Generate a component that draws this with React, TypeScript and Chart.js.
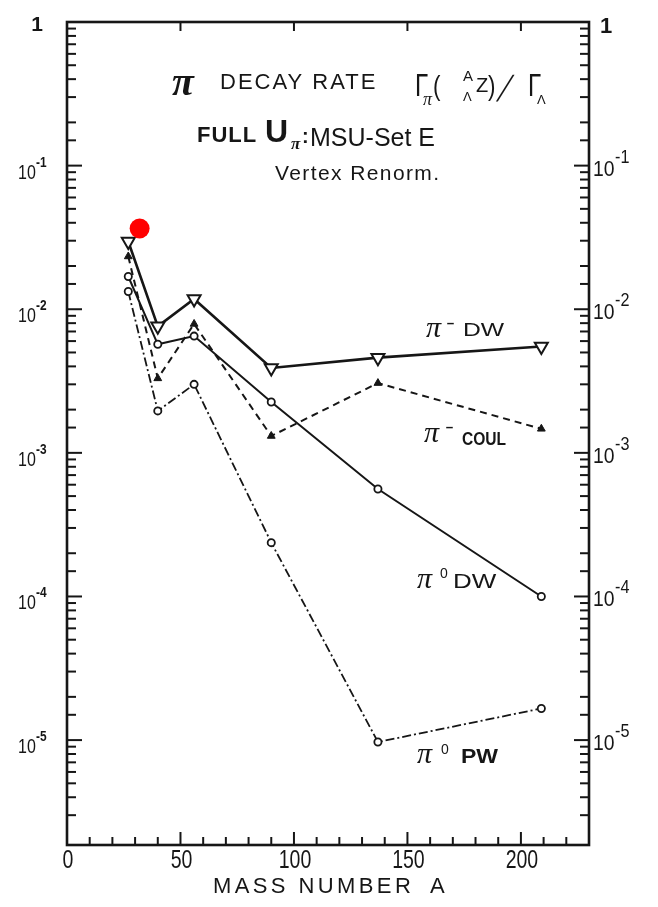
import { useEffect, useRef } from 'react';
import { Chart, registerables } from 'chart.js';

Chart.register(...registerables);

// Mass numbers of the hypernuclei shown on the horizontal axis
const massNumbers = [27, 40, 56, 90, 137, 209];

// Decay-rate ratios Γπ / ΓΛ for each model
const piMinusDW = [0.0296, 0.0076, 0.0118, 0.0039, 0.0046, 0.0055];
const piMinusCoul = [0.0233, 0.0033, 0.0079, 0.00131, 0.00306, 0.00147];
const piZeroDW = [0.0169, 0.0057, 0.0065, 0.00226, 0.00056, 0.0001];
const piZeroPW = [0.0133, 0.00196, 0.003, 0.000237, 0.0000097, 0.0000166];

// Highlighted point
const markedA = [32];
const markedRate = [0.0365];

// Axis ranges and labelled ticks
const xRange = [0, 230];
const yRange = [1.86e-6, 1];
const xTickLabels = [0, 50, 100, 150, 200];
const yDecades = [1, 1e-1, 1e-2, 1e-3, 1e-4, 1e-5];

const INK = '#161616';

const toPoints = (ys: number[], xs: number[] = massNumbers) =>
  xs.map((x, i) => ({ x, y: ys[i] }));

type PutOpts = { ls?: number; sx?: number; skew?: number; align?: CanvasTextAlign };

function put(
  ctx: CanvasRenderingContext2D,
  s: string,
  x: number,
  y: number,
  font: string,
  opts: PutOpts = {}
) {
  ctx.save();
  ctx.font = font;
  (ctx as any).letterSpacing = `${opts.ls ?? 0}px`;
  ctx.textAlign = opts.align ?? 'left';
  ctx.textBaseline = 'alphabetic';
  ctx.translate(x, y);
  if (opts.skew) ctx.transform(1, 0, opts.skew, 1, 0, 0);
  ctx.scale(opts.sx ?? 1, 1);
  ctx.fillText(s, 0, 0);
  ctx.restore();
}

const isDecade = (v: number) => {
  const e = Math.log10(v);
  return Math.abs(e - Math.round(e)) < 1e-6;
};

const SANS = '"Liberation Sans", Arial, sans-serif';
const SERIF = '"Liberation Serif", "Times New Roman", serif';
const pi = (size: number, bold = false) => `${bold ? 'bold ' : ''}italic ${size}px ${SERIF}`;

const framePlugin = {
  id: 'frameAndText',
  beforeDatasetsDraw(chart: any) {
    const { ctx, chartArea: a, scales } = chart;
    const xs = scales.x;
    const ys = scales.y;
    ctx.save();
    ctx.strokeStyle = INK;
    ctx.lineCap = 'butt';

    const seg = (x1: number, y1: number, x2: number, y2: number) => {
      ctx.beginPath();
      ctx.moveTo(x1, y1);
      ctx.lineTo(x2, y2);
      ctx.stroke();
    };

    // inward tick marks on both vertical axes
    ctx.lineWidth = 2;
    for (const t of ys.ticks) {
      const py = ys.getPixelForValue(t.value);
      if (py < a.top + 1 || py > a.bottom - 1) continue;
      const major = isDecade(t.value);
      const len = major ? 15 : 9;
      seg(a.left, py, a.left + len, py);
      seg(a.right, py, a.right - len, py);
    }

    // inward tick marks on the horizontal axes
    for (const t of xs.ticks) {
      const px = xs.getPixelForValue(t.value);
      if (px < a.left + 1 || px > a.right - 1) continue;
      const major = t.value % 50 === 0;
      seg(px, a.bottom, px, a.bottom - (major ? 13 : 8));
      if (major) seg(px, a.top, px, a.top + 9);
    }

    // plot frame
    ctx.lineWidth = 2.6;
    ctx.strokeRect(a.left, a.top, a.right - a.left, a.bottom - a.top);
    ctx.restore();
  },
  afterDatasetsDraw(chart: any) {
    const { ctx, chartArea: a, scales } = chart;
    const xs = scales.x;
    const ys = scales.y;
    ctx.save();
    ctx.fillStyle = INK;

    // horizontal tick labels
    for (const v of xTickLabels) {
      const px = xs.getPixelForValue(v);
      put(ctx, String(v), px + 1, a.bottom + 23, `25px ${SANS}`, { sx: 0.78, align: 'center' });
    }

    // decade labels on both sides
    for (const v of yDecades) {
      const py = ys.getPixelForValue(v);
      const e = Math.round(Math.log10(v));
      if (e === 0) {
        put(ctx, '1', 43, py + 9, `bold 21px ${SANS}`, { align: 'right' });
        put(ctx, '1', a.right + 11, py + 11, `bold 22px ${SANS}`);
        continue;
      }
      put(ctx, '10', 18, py + 13, `20px ${SANS}`, { sx: 0.8 });
      put(ctx, `-${-e}`, 36, py + 1, `bold 14px ${SANS}`, { sx: 0.85 });
      put(ctx, '10', a.right + 4, py + 10, `22px ${SANS}`, { sx: 0.88 });
      put(ctx, `-${-e}`, a.right + 26, py - 3, `18px ${SANS}`, { sx: 0.9 });
    }

    // title block
    put(ctx, 'π', 172, 95, pi(40, true));
    put(ctx, 'DECAY RATE', 220, 89, `22px ${SANS}`, { ls: 2 });
    put(ctx, 'Γ', 415, 96, `32px ${SANS}`, { sx: 0.75 });
    put(ctx, 'π', 423, 105, pi(18));
    put(ctx, '(', 433, 95, `28px ${SANS}`, { sx: 0.8 });
    put(ctx, 'A', 463, 81, `15px ${SANS}`);
    put(ctx, 'Λ', 463, 101, `13px ${SANS}`);
    put(ctx, 'Z', 476, 92, `20px ${SANS}`);
    put(ctx, ')', 488, 95, `28px ${SANS}`, { sx: 0.8 });
    put(ctx, '/', 496, 101, `40px ${SERIF}`, { skew: -0.28 });
    put(ctx, 'Γ', 528, 96, `32px ${SANS}`, { sx: 0.75 });
    put(ctx, 'Λ', 537, 104, `13px ${SANS}`);

    put(ctx, 'FULL', 197, 142, `bold 22px ${SANS}`, { ls: 1 });
    put(ctx, 'U', 265, 142, `bold 32px ${SANS}`);
    put(ctx, 'π', 291, 149, pi(17, true));
    put(ctx, ':', 302, 143, `bold 20px ${SANS}`);
    put(ctx, 'MSU-Set E', 310, 146, `25px ${SANS}`);
    put(ctx, 'Vertex Renorm.', 275, 180, `21px ${SANS}`, { ls: 1.4 });

    // curve labels
    put(ctx, 'π', 426, 337, pi(30));
    put(ctx, '-', 446, 329, `18px ${SANS}`, { sx: 1.5 });
    put(ctx, 'DW', 463, 336, `19px ${SANS}`, { sx: 1.3 });

    put(ctx, 'π', 424, 442, pi(30));
    put(ctx, '-', 445, 433, `18px ${SANS}`, { sx: 1.5 });
    put(ctx, 'COUL', 462, 445, `bold 19px ${SANS}`, { sx: 0.82 });

    put(ctx, 'π', 417, 588, pi(30));
    put(ctx, '0', 440, 578, `14px ${SANS}`);
    put(ctx, 'DW', 453, 588, `20px ${SANS}`, { sx: 1.3 });

    put(ctx, 'π', 417, 763, pi(30));
    put(ctx, '0', 441, 754, `14px ${SANS}`);
    put(ctx, 'PW', 461, 763, `bold 20px ${SANS}`, { sx: 1.15 });

    // horizontal axis title
    put(ctx, 'MASS NUMBER', 213, 893, `22px ${SANS}`, { ls: 3.4 });
    put(ctx, 'A', 430, 893, `22px ${SANS}`);
    ctx.restore();
  },
};

export default function App() {
  const ref = useRef<HTMLCanvasElement>(null);

  useEffect(() => {
    const canvas = ref.current;
    if (!canvas) return;

    const openTri = {
      pointStyle: 'triangle',
      rotation: 180,
      pointRadius: 7.5,
      pointBorderWidth: 2,
      pointBackgroundColor: '#ffffff',
      pointBorderColor: INK,
    };
    const openCircle = {
      pointStyle: 'circle',
      pointRadius: 3.6,
      pointBorderWidth: 1.8,
      pointBackgroundColor: '#ffffff',
      pointBorderColor: INK,
    };

    const chart = new Chart(canvas, {
      type: 'line',
      data: {
        datasets: [
          {
            label: 'marked',
            data: toPoints(markedRate, markedA),
            showLine: false,
            pointStyle: 'circle',
            pointRadius: 10,
            pointBorderWidth: 0,
            pointBackgroundColor: '#ff0000',
            pointBorderColor: '#ff0000',
          },
          {
            label: 'π⁻ DW',
            data: toPoints(piMinusDW),
            borderColor: INK,
            borderWidth: 2.6,
            ...openTri,
          },
          {
            label: 'π⁻ COUL',
            data: toPoints(piMinusCoul),
            borderColor: INK,
            borderWidth: 2,
            borderDash: [7, 5],
            pointStyle: 'triangle',
            pointRadius: 4.5,
            pointBorderWidth: 1,
            pointBackgroundColor: INK,
            pointBorderColor: INK,
          },
          {
            label: 'π⁰ DW',
            data: toPoints(piZeroDW),
            borderColor: INK,
            borderWidth: 2,
            ...openCircle,
          },
          {
            label: 'π⁰ PW',
            data: toPoints(piZeroPW),
            borderColor: INK,
            borderWidth: 1.8,
            borderDash: [9, 3, 2, 3],
            ...openCircle,
          },
        ] as any,
      },
      options: {
        animation: false,
        responsive: false,
        devicePixelRatio: 1,
        layout: { padding: { top: 22, left: 0, right: 0, bottom: 0 } },
        elements: { line: { tension: 0, fill: false } },
        plugins: {
          legend: { display: false },
          tooltip: { enabled: false },
        },
        scales: {
          x: {
            type: 'linear',
            min: xRange[0],
            max: xRange[1],
            grid: { display: false, drawTicks: false },
            border: { display: false },
            ticks: { display: false, stepSize: 10, autoSkip: false },
            afterFit: (s: any) => {
              s.height = 62;
            },
          },
          y: {
            type: 'logarithmic',
            position: 'left',
            min: yRange[0],
            max: yRange[1],
            grid: { display: false, drawTicks: false },
            border: { display: false },
            ticks: { display: false },
            afterFit: (s: any) => {
              s.width = 67;
            },
          },
          y2: {
            type: 'logarithmic',
            position: 'right',
            min: yRange[0],
            max: yRange[1],
            grid: { display: false, drawTicks: false },
            border: { display: false },
            ticks: { display: false },
            afterFit: (s: any) => {
              s.width = 69;
            },
          },
        },
      } as any,
      plugins: [framePlugin],
    });

    return () => chart.destroy();
  }, []);

  return (
    <div
      style={{
        position: 'absolute',
        left: 0,
        top: 0,
        width: 658,
        height: 907,
        background: '#ffffff',
      }}
    >
      <canvas ref={ref} width={658} height={907} style={{ display: 'block' }} />
    </div>
  );
}
